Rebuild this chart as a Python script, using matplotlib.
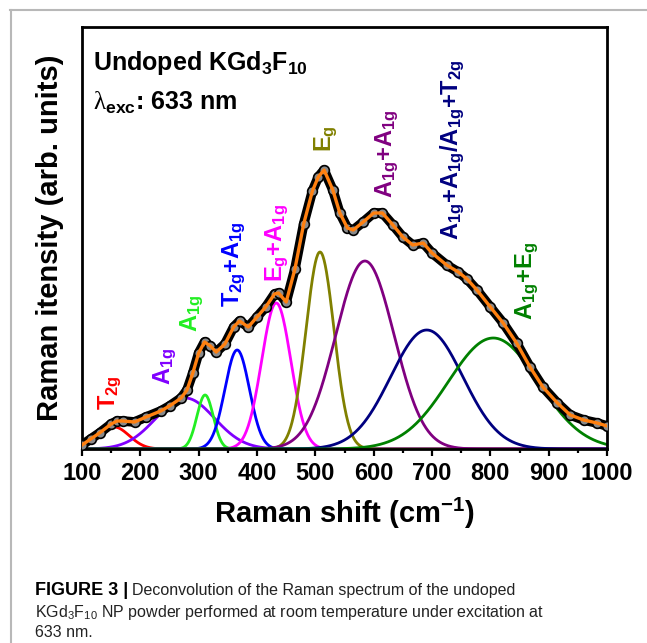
import numpy as np
import matplotlib
matplotlib.use("Agg")
import matplotlib.pyplot as plt
from matplotlib.lines import Line2D

plt.rcParams['font.family'] = ['Liberation Sans', 'DejaVu Sans']
plt.rcParams['mathtext.fontset'] = 'custom'
plt.rcParams['mathtext.rm'] = 'Liberation Sans'
plt.rcParams['mathtext.bf'] = 'Liberation Sans:bold'
plt.rcParams['mathtext.sf'] = 'Liberation Serif'
plt.rcParams['mathtext.default'] = 'regular'

shift = [100, 115, 130, 150, 160, 170, 190, 210, 235, 250, 270, 280, 290, 300, 310,
         320, 330, 345, 360, 370, 385, 400, 415, 430, 437, 450, 465, 480, 495, 505,
         515, 530, 542, 555, 565, 582, 600, 615, 633, 650, 667, 685, 700, 725, 745,
         760, 777, 800, 822, 845, 868, 890, 915, 937, 960, 983, 1000]
intensity = [4, 10, 16, 25, 28, 28, 27, 32, 38, 43, 51, 59, 76, 96, 107,
             103, 97, 105, 122, 128, 122, 132, 142, 155, 156, 147, 180, 225, 258, 272,
             279, 259, 236, 221, 219, 227, 236, 236, 224, 212, 204, 206, 196, 184, 177,
             170, 159, 142, 126, 106, 82, 62, 46, 34, 29, 26, 23]

# deconvolution components (gaussian peaks)
peak_center = [155, 277, 311, 366, 433, 508, 585, 691, 805]
peak_height = [22, 51, 54, 99, 146, 197, 188, 119, 111]
peak_sigma = [26, 50, 14, 21, 25, 24, 50, 62, 77]
peak_color = ['#ff0000', '#8000ff', '#22ee22', '#0000ff', '#ff00ff',
              '#808000', '#800080', '#000080', '#008000']
peak_label = [r'T$_{2g}$', r'A$_{1g}$', r'A$_{1g}$', r'T$_{2g}$+A$_{1g}$',
              r'E$_{g}$+A$_{1g}$', r'E$_{g}$', r'A$_{1g}$+A$_{1g}$',
              r'A$_{1g}$+A$_{1g}$/A$_{1g}$+T$_{2g}$', r'A$_{1g}$+E$_{g}$']
label_x = [148, 242, 289, 361, 434, 518, 623, 736, 863]
label_y = [39, 64, 117, 142, 167, 297, 251, 209, 129]

fig = plt.figure(figsize=(6.47, 6.43), dpi=100)
ax = fig.add_axes([82 / 647, 1 - 449 / 643, 525 / 647, 422 / 643])

x = np.linspace(100, 1000, 901)
for c, h, s, col in zip(peak_center, peak_height, peak_sigma, peak_color):
    ax.plot(x, h * np.exp(-(x - c) ** 2 / (2 * s ** 2)), color=col, lw=2.0, zorder=2)

ax.plot(shift, intensity, color='black', lw=7, zorder=3, solid_capstyle='round',
        solid_joinstyle='round')
ax.plot(shift, intensity, linestyle='none', marker='o', ms=7, mfc='#8a8a8a',
        mec='black', mew=1.2, zorder=4)
ax.plot(shift, intensity, color='#ff8010', lw=2.4, zorder=5)

for lab, lx, ly, col in zip(peak_label, label_x, label_y, peak_color):
    ax.text(lx, ly, lab, rotation=90, ha='center', va='bottom', color=col,
            fontsize=17, fontweight='bold')

ax.text(0.021, 0.898, r'Undoped KGd$_3$F$_{10}$', transform=ax.transAxes,
        fontsize=18, fontweight='bold', va='baseline')
ax.text(0.021, 0.803, r'$\mathsf{\lambda}_{exc}$: 633 nm', transform=ax.transAxes,
        fontsize=18, fontweight='bold', va='baseline')

ax.set_xlim(100, 1000)
ax.set_ylim(0, 422)
ax.set_xticks(np.arange(100, 1001, 100))
ax.set_xticks(np.arange(150, 1000, 100), minor=True)
ax.set_yticks([])
ax.tick_params(axis='x', which='major', direction='out', length=5, width=1.6,
               labelsize=17, pad=4)
ax.tick_params(axis='x', which='minor', direction='out', length=3, width=1.6)
for lbl in ax.get_xticklabels():
    lbl.set_fontweight('bold')
for sp in ax.spines.values():
    sp.set_linewidth(2.0)

ax.set_xlabel(r'Raman shift (cm$^{-1}$)', fontsize=21, fontweight='bold', labelpad=8)
ax.set_ylabel('Raman itensity (arb. units)', fontsize=21, fontweight='bold', labelpad=13)

# page frame
fig.add_artist(Line2D([10 / 647, 1], [1 - 10 / 643, 1 - 10 / 643],
                      transform=fig.transFigure, color='#b8b8b8', lw=1.5))
fig.add_artist(Line2D([11 / 647, 11 / 647], [0, 1 - 10 / 643],
                      transform=fig.transFigure, color='#b8b8b8', lw=1.5))

# caption
cap_x = 35 / 647
t1 = fig.text(cap_x, 1 - 595 / 643, 'FIGURE 3 |', fontsize=13, fontweight='bold',
              va='baseline')
fig.canvas.draw()
bb = t1.get_window_extent()
fig.text((bb.x1 + 4) / fig.bbox.width, 1 - 595 / 643,
         'Deconvolution of the Raman spectrum of the undoped', fontsize=11.5,
         va='baseline', color='#222222')
fig.text(cap_x, 1 - 617 / 643,
         r'KGd$\mathregular{_3}$F$\mathregular{_{10}}$ NP powder performed at room temperature under excitation at',
         fontsize=11.5, va='baseline', color='#222222')
fig.text(cap_x, 1 - 637 / 643, '633 nm.', fontsize=11.5, va='baseline', color='#222222')

fig.savefig('out.png', dpi=100)
